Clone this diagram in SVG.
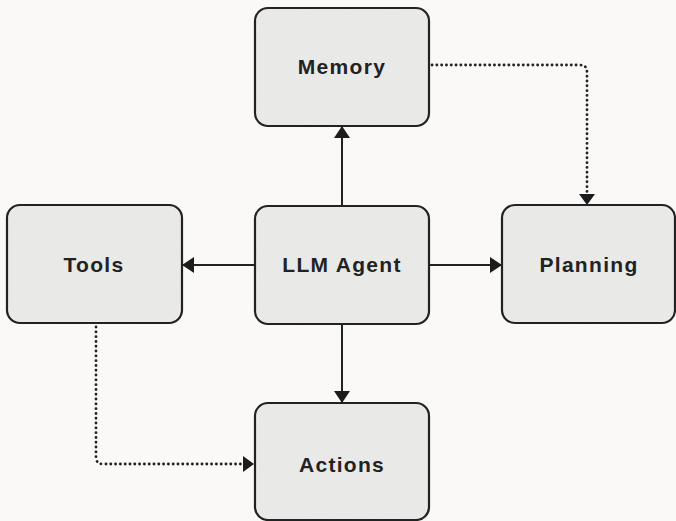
<svg xmlns="http://www.w3.org/2000/svg" width="676" height="521" viewBox="0 0 676 521">
  <defs>
    <filter id="grain" x="0" y="0" width="100%" height="100%">
      <feTurbulence type="fractalNoise" baseFrequency="0.9" numOctaves="2" seed="3" result="n"/>
      <feColorMatrix in="n" type="matrix" values="0 0 0 0 0.55  0 0 0 0 0.55  0 0 0 0 0.55  0 0 0 0.16 0" result="g"/>
      <feComposite in="g" in2="SourceGraphic" operator="in" result="gc"/>
      <feMerge><feMergeNode in="SourceGraphic"/><feMergeNode in="gc"/></feMerge>
    </filter>
    <marker id="arr" viewBox="0 0 12 16" refX="12" refY="8" markerWidth="12" markerHeight="16" markerUnits="userSpaceOnUse" orient="auto">
      <path d="M0,0 L12,8 L0,16 Z" fill="#1c1c1c"/>
    </marker>
  </defs>
  <style>
    .fill { fill: #ececeb; stroke: none; }
    .box { fill: none; stroke: #222; stroke-width: 2.2; }
    .lbl { font-family: "Liberation Sans", Arial, sans-serif; font-weight: bold; font-size: 21px; letter-spacing: 1.3px; fill: #222; text-anchor: middle; }
    .solid { fill: none; stroke: #222; stroke-width: 2; }
    .dot { fill: none; stroke: #222; stroke-width: 2.8; stroke-dasharray: 0.1 4.7; stroke-linecap: round; }
    .head { fill: #1c1c1c; }
  </style>
  <rect width="676" height="521" fill="#faf9f7"/>

  <g id="connectors">
    <line class="solid" x1="342" y1="206" x2="342" y2="126" marker-end="url(#arr)"/>
    <line class="solid" x1="255" y1="265" x2="182" y2="265" marker-end="url(#arr)"/>
    <line class="solid" x1="430" y1="265" x2="502" y2="265" marker-end="url(#arr)"/>
    <line class="solid" x1="342" y1="324" x2="342" y2="403" marker-end="url(#arr)"/>
    <path class="dot" d="M432,65 H580 Q587,65 587,72 V193"/>
    <path class="head" d="M579,194 L595,194 L587,205 Z"/>
    <path class="dot" d="M96,327 V457 Q96,464 103,464 H242"/>
    <path class="head" d="M243,456 L254,464 L243,472 Z"/>
  </g>

  <g id="memory">
    <rect class="fill" x="255" y="8" width="174" height="118" rx="13" filter="url(#grain)"/>
    <rect class="box" x="255" y="8" width="174" height="118" rx="13"/>
    <text class="lbl" x="342" y="74">Memory</text>
  </g>
  <g id="llm-agent">
    <rect class="fill" x="255" y="206" width="174" height="118" rx="13" filter="url(#grain)"/>
    <rect class="box" x="255" y="206" width="174" height="118" rx="13"/>
    <text class="lbl" x="342" y="272">LLM Agent</text>
  </g>
  <g id="tools">
    <rect class="fill" x="7" y="205" width="175" height="118" rx="13" filter="url(#grain)"/>
    <rect class="box" x="7" y="205" width="175" height="118" rx="13"/>
    <text class="lbl" x="94" y="272">Tools</text>
  </g>
  <g id="planning">
    <rect class="fill" x="502" y="205" width="173" height="118" rx="13" filter="url(#grain)"/>
    <rect class="box" x="502" y="205" width="173" height="118" rx="13"/>
    <text class="lbl" x="589" y="272">Planning</text>
  </g>
  <g id="actions">
    <rect class="fill" x="255" y="403" width="174" height="117" rx="13" filter="url(#grain)"/>
    <rect class="box" x="255" y="403" width="174" height="117" rx="13"/>
    <text class="lbl" x="342" y="472">Actions</text>
  </g>
</svg>
